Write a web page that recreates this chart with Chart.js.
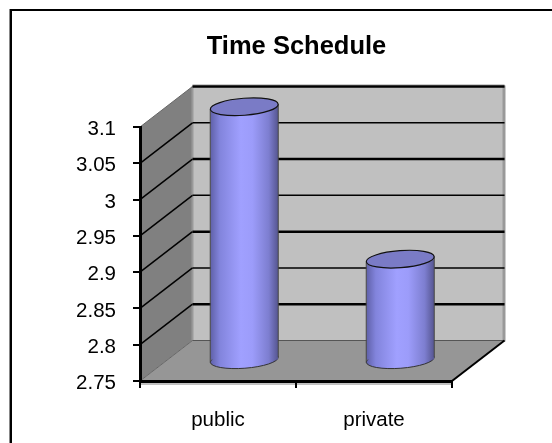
<!DOCTYPE html>
<html>
<head>
<meta charset="utf-8">
<title>Time Schedule</title>
<script src="https://cdn.jsdelivr.net/npm/chart.js@4"></script>
<style>
    html, body { margin: 0; padding: 0; background: #fff; overflow: hidden; }
    #frame { position: absolute; left: 10px; top: 9px; width: 542px; height: 434px; box-sizing: border-box;
             border-top: 2px solid #000; border-left: 2px solid #000; box-shadow: -1px 0 0 #888; }
    #myChart { position: absolute; left: 0; top: 0; }
</style>
</head>
<body>
<div id="frame"></div>
<canvas id="myChart" width="552" height="443"></canvas>
<script>
const categories = ['public', 'private'];
const timeSchedule = [3.1, 2.89];
const yTicks = [2.75, 2.8, 2.85, 2.9, 2.95, 3, 3.05, 3.1];
const yTickLabels = ['2.75', '2.8', '2.85', '2.9', '2.95', '3', '3.05', '3.1'];

// depth of the fake 3d box, the bars stand in the middle of it
const depthX = 52.5;
const depthY = 40.5;
const ellipseRy = 8.5;
const tilt = 0.075;

function cylinderGradient(ctx, x, w) {
    const g = ctx.createLinearGradient(x - w / 2, 0, x + w / 2, 0);
    g.addColorStop(0, '#5f60a8');
    g.addColorStop(0.14, '#8284dc');
    g.addColorStop(0.45, '#a0a0ff');
    g.addColorStop(0.62, '#9c9cfa');
    g.addColorStop(0.86, '#7d7ed0');
    g.addColorStop(1, '#555590');
    return g;
}

function drawEllipse(ctx, x, y, rx, fill) {
    ctx.beginPath();
    ctx.ellipse(x, y, rx, ellipseRy, -tilt, 0, Math.PI * 2);
    ctx.fillStyle = fill;
    ctx.fill();
}

const box3d = {
    id: 'box3d',
    afterLayout(chart) {
        // title sits over the plot, not over the whole page
        chart.titleBlock.left += 70.5;
        chart.titleBlock.right += 70.5;
    },
    beforeDraw(chart) {
        const ctx = chart.ctx;
        const a = chart.chartArea;
        const y = chart.scales.y;
        ctx.save();
        // strip under the floor
        ctx.fillStyle = '#c0c0c0';
        ctx.fillRect(a.left, a.bottom, a.right - a.left, 4);
        // back wall
        ctx.fillStyle = '#c0c0c0';
        ctx.fillRect(a.left + depthX, a.top - depthY, a.right - a.left, a.bottom - a.top);
        // side wall
        ctx.fillStyle = '#808080';
        ctx.beginPath();
        ctx.moveTo(a.left, a.top);
        ctx.lineTo(a.left + depthX, a.top - depthY);
        ctx.lineTo(a.left + depthX, a.bottom - depthY);
        ctx.lineTo(a.left, a.bottom);
        ctx.closePath();
        ctx.fill();
        // floor
        ctx.fillStyle = '#969696';
        ctx.beginPath();
        ctx.moveTo(a.left, a.bottom);
        ctx.lineTo(a.left + depthX, a.bottom - depthY);
        ctx.lineTo(a.right + depthX, a.bottom - depthY);
        ctx.lineTo(a.right, a.bottom);
        ctx.closePath();
        ctx.fill();
        // right edge of the back wall
        ctx.fillStyle = '#999';
        ctx.fillRect(a.right + depthX - 2, a.top - depthY - 1, 3, a.bottom - a.top + 2);
        ctx.fillRect(a.left + depthX, a.top - depthY - 2, a.right - a.left, 1);
        ctx.fillRect(a.left + depthX - 1, a.top - depthY, 2, a.bottom - a.top);
        // gridlines
        y.ticks.forEach(function(t, i) {
            const py = y.getPixelForValue(t.value);
            const isFloor = i === 0;
            const isTop = i === y.ticks.length - 1;
            ctx.strokeStyle = isFloor || isTop ? '#666' : '#000';
            ctx.lineWidth = isFloor || isTop ? 1 : 1.5;
            ctx.beginPath();
            ctx.moveTo(a.left, py);
            ctx.lineTo(a.left + depthX, py - depthY);
            ctx.stroke();
            ctx.strokeStyle = isFloor ? '#555' : '#000';
            ctx.lineWidth = isFloor ? 1 : (i % 2 === 0 ? 1.5 : 2.5);
            ctx.beginPath();
            ctx.moveTo(a.left + depthX, py - depthY);
            ctx.lineTo(a.right + depthX, py - depthY);
            ctx.stroke();
        });
        // right floor edge
        ctx.strokeStyle = '#000';
        ctx.lineWidth = 2;
        ctx.beginPath();
        ctx.moveTo(a.right, a.bottom);
        ctx.lineTo(a.right + depthX, a.bottom - depthY);
        ctx.stroke();
        ctx.restore();
    },
    beforeDatasetDraw(chart, args) {
        const ctx = chart.ctx;
        const bars = chart.getDatasetMeta(args.index).data;
        ctx.save();
        ctx.translate(depthX / 2, -depthY / 2);
        bars.forEach(function(bar) {
            const g = cylinderGradient(ctx, bar.x, bar.width);
            drawEllipse(ctx, bar.x, bar.base, bar.width / 2, g);
            ctx.strokeStyle = '#333';
            ctx.lineWidth = 1;
            ctx.stroke();
        });
        // keep the square bar corners out of the tilted top
        const lean = bar => bar.width / 2 * Math.sin(tilt);
        ctx.beginPath();
        bars.forEach(function(bar) {
            ctx.moveTo(bar.x - bar.width / 2, bar.y + lean(bar));
            ctx.lineTo(bar.x + bar.width / 2, bar.y - lean(bar));
            ctx.lineTo(bar.x + bar.width / 2, bar.base);
            ctx.lineTo(bar.x - bar.width / 2, bar.base);
            ctx.closePath();
        });
        ctx.clip();
    },
    afterDatasetDraw(chart, args) {
        const ctx = chart.ctx;
        const bars = chart.getDatasetMeta(args.index).data;
        ctx.restore();
        ctx.save();
        ctx.translate(depthX / 2, -depthY / 2);
        bars.forEach(function(bar) {
            const rx = bar.width / 2;
            const lean = rx * Math.sin(tilt);
            ctx.strokeStyle = '#444';
            ctx.lineWidth = 1;
            ctx.beginPath();
            ctx.moveTo(bar.x - rx, bar.y + lean);
            ctx.lineTo(bar.x - rx, bar.base + lean);
            ctx.moveTo(bar.x + rx, bar.y - lean);
            ctx.lineTo(bar.x + rx, bar.base - lean);
            ctx.stroke();
            drawEllipse(ctx, bar.x, bar.y, rx, '#7a7bc6');
            ctx.strokeStyle = '#111';
            ctx.lineWidth = 1.2;
            ctx.stroke();
        });
        ctx.restore();
    }
};

new Chart(document.getElementById('myChart'), {
    type: 'bar',
    data: {
        labels: categories,
        datasets: [{
            label: 'Time Schedule',
            data: timeSchedule,
            base: 2.75,
            clip: false,
            barPercentage: 0.436,
            categoryPercentage: 1,
            backgroundColor: function(c) {
                const x = c.chart.scales.x;
                const w = (x.right - x.left) / categories.length * 0.436;
                const px = x.getPixelForValue(c.dataIndex);
                if (!Number.isFinite(px) || !Number.isFinite(w)) {
                    return '#9c9cfa';
                }
                return cylinderGradient(c.chart.ctx, px, w);
            },
            borderWidth: 0
        }]
    },
    options: {
        responsive: false,
        animation: false,
        layout: { padding: { left: 0, right: 100, top: 0, bottom: 0 } },
        plugins: {
            legend: { display: false },
            tooltip: { enabled: false },
            title: {
                display: true,
                text: 'Time Schedule',
                color: '#000',
                font: { family: '"Liberation Sans"', size: 25.5, weight: 'bold' },
                padding: { top: 32, bottom: 64.4 }
            }
        },
        scales: {
            y: {
                min: 2.75,
                max: 3.1,
                afterBuildTicks: function(scale) {
                    scale.ticks = yTicks.map(v => ({ value: v }));
                },
                afterFit: function(scale) {
                    scale.width = 140;
                },
                ticks: {
                    color: '#000',
                    padding: 17,
                    labelOffset: 2.5,
                    font: { family: '"Liberation Sans"', size: 20.5 },
                    callback: function(v, i) {
                        return yTickLabels[i];
                    }
                },
                grid: { drawOnChartArea: false, color: '#000', lineWidth: 2, tickLength: 7 },
                border: { color: '#000', width: 3 }
            },
            x: {
                afterFit: function(scale) {
                    scale.height = 62;
                },
                ticks: {
                    color: '#000',
                    padding: 20,
                    maxRotation: 0,
                    font: { family: '"Liberation Sans"', size: 20.5 }
                },
                grid: { drawOnChartArea: false, color: '#000', lineWidth: 2, tickLength: 7 },
                border: { color: '#000', width: 3 }
            }
        }
    },
    plugins: [box3d]
});
</script>
</body>
</html>
